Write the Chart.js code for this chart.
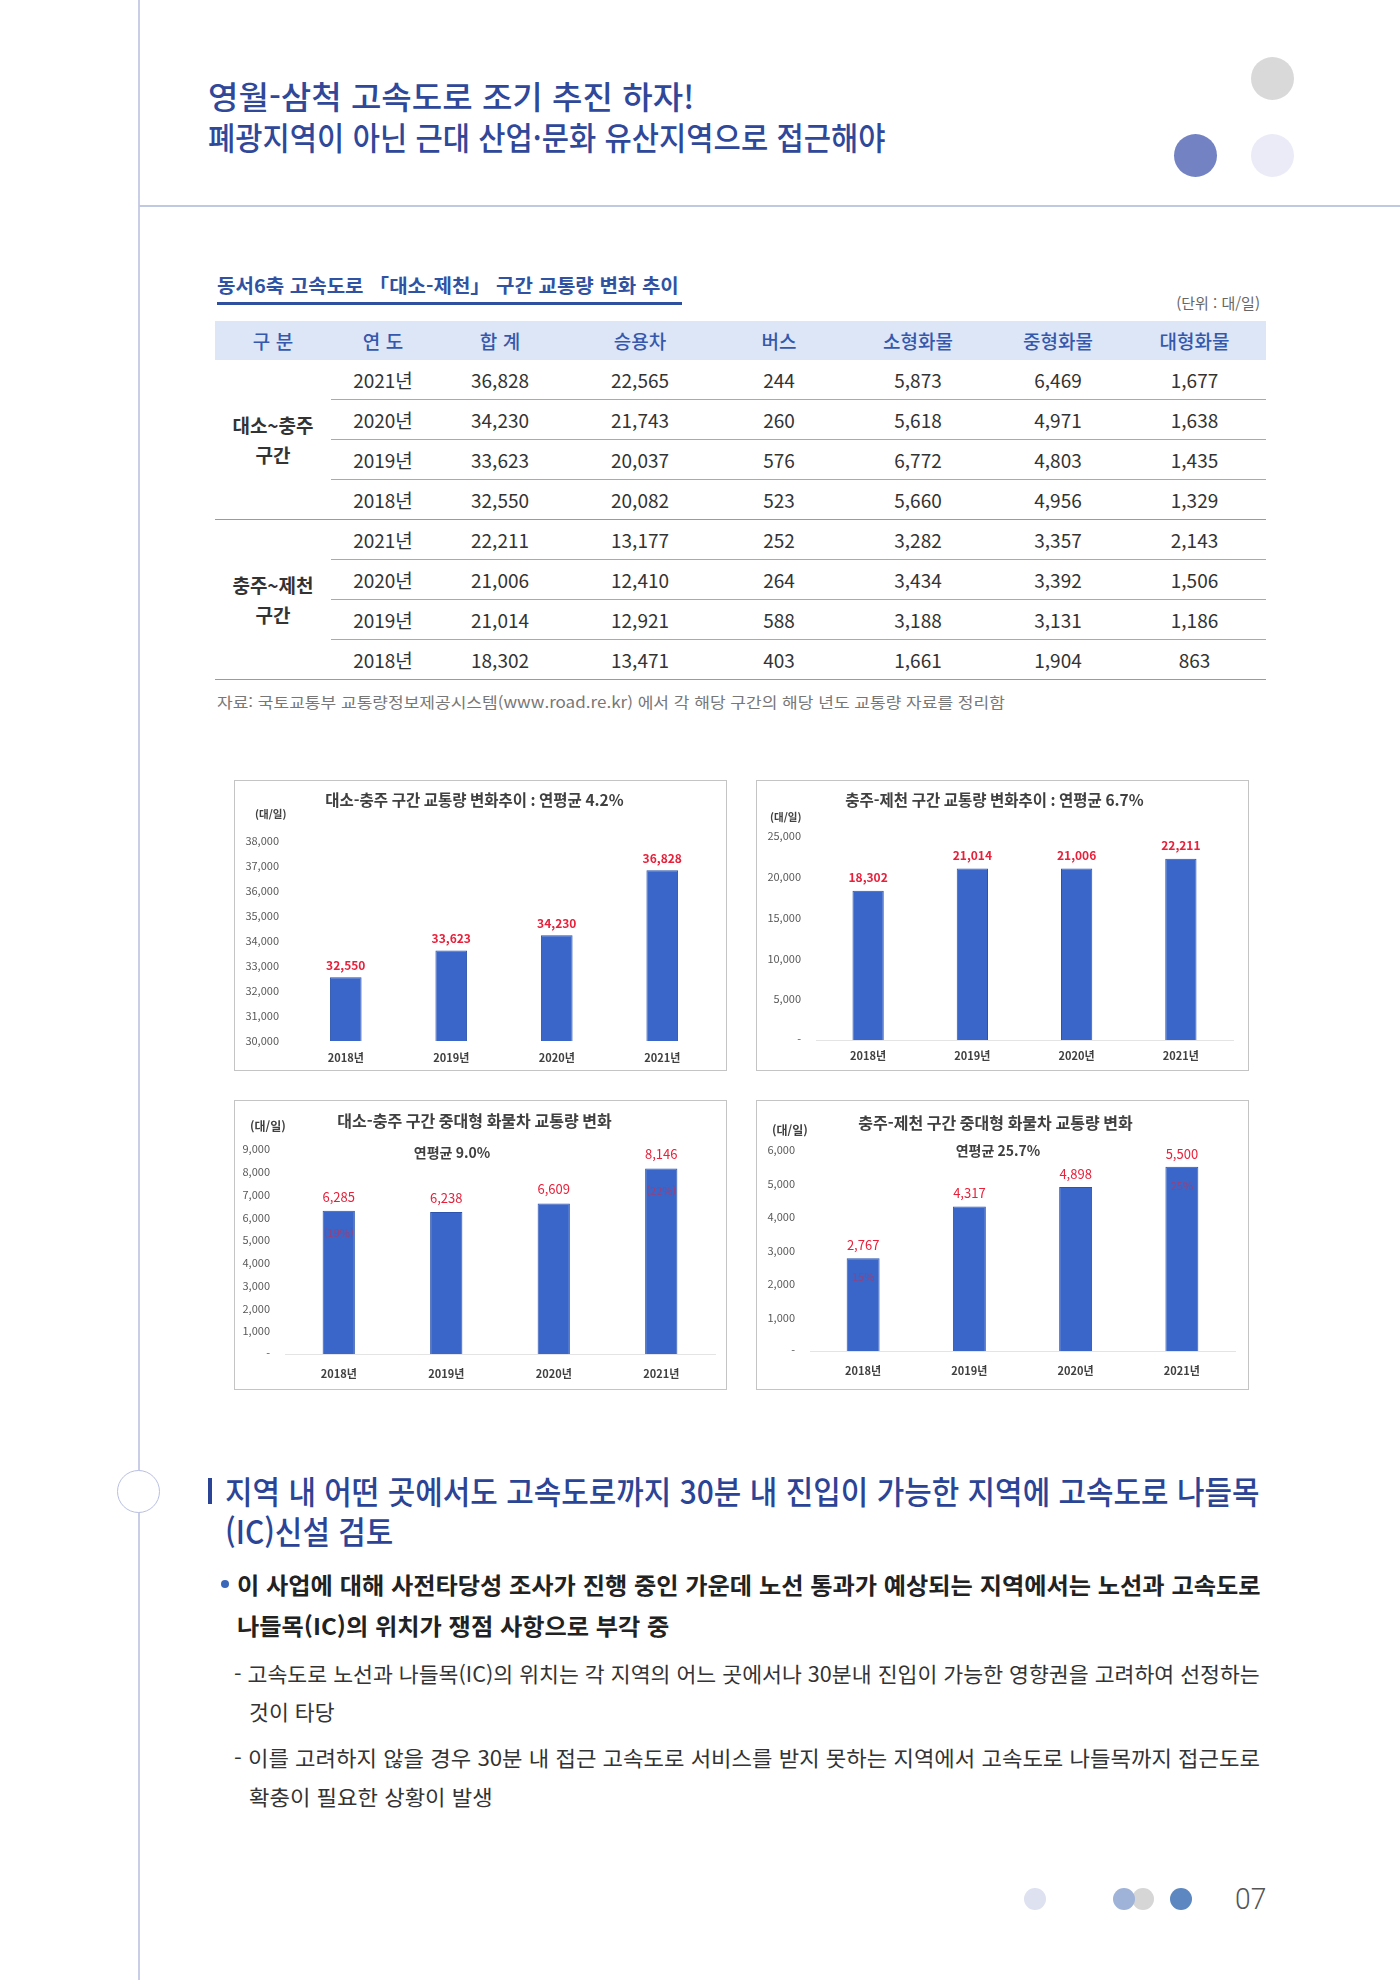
<!DOCTYPE html>
<html lang="ko">
<head>
<meta charset="utf-8">
<title>영월-삼척 고속도로 조기 추진 하자!</title>
<script src="https://cdn.jsdelivr.net/npm/chart.js@4.4.1/dist/chart.umd.min.js"></script>
<style>
  html, body { margin: 0; padding: 0; }
  body {
    width: 1400px; height: 1980px; position: relative; overflow: hidden; background: #fff;
    font-family: "Noto Sans CJK KR", "Noto Sans", sans-serif; color: #333;
  }
  .abs { position: absolute; white-space: nowrap; transform-origin: left center; }
  .dot { position: absolute; border-radius: 50%; }
  .head { font-size: 32px; line-height: 40px; font-weight: 500; color: #30489a; }
  .sec { font-size: 32px; line-height: 40px; font-weight: 500; color: #2c4496; }
  .bul { font-size: 23px; line-height: 40px; font-weight: 700; color: #222; }
  .dash { font-size: 21px; line-height: 38px; font-weight: 400; color: #333; }
  canvas.chart { position: absolute; outline: 1px solid #c4c4c4; outline-offset: -1px; }

  #traffic { position: absolute; left: 215px; top: 321px; width: 1051px; border-collapse: collapse; table-layout: fixed; }
  #traffic th { height: 39px; padding: 0; background: #dde6f6; color: #3558ad; font-size: 19px; font-weight: 500; }
  #traffic td { height: 39px; padding: 0; text-align: center; font-size: 19px; color: #333; border-bottom: 1px solid #9aaad0; }
  #traffic td.grp { font-weight: 700; line-height: 30px; border-bottom: 1.5px solid #8a9bc4; }
  #traffic tr.last td { border-bottom: 1.5px solid #8a9bc4; }
</style>
</head>
<body>

<!-- page frame -->
<div class="abs" style="left:138px; top:0; width:1.5px; height:1980px; background:#c9cee6;"></div>
<div class="abs" style="left:139px; top:205px; width:1261px; height:2px; background:#bfc9df;"></div>
<div class="dot" style="left:1251px; top:57px; width:43px; height:43px; background:#d9d9d9;"></div>
<div class="dot" style="left:1174px; top:134px; width:43px; height:43px; background:#7282c2;"></div>
<div class="dot" style="left:1251px; top:134px; width:43px; height:43px; background:#ebebf8;"></div>

<div class="abs head" data-w="486" style="left:208px; top:75px;">영월-삼척 고속도로 조기 추진 하자!</div>
<div class="abs head" data-w="678" style="left:208px; top:116px;">폐광지역이 아닌 근대 산업·문화 유산지역으로 접근해야</div>

<!-- table -->
<div class="abs" data-w="462" style="left:217px; top:271px; font-size:19px; line-height:28px; font-weight:700; color:#2f52a3;">동서6축 고속도로 「대소-제천」 구간 교통량 변화 추이</div>
<div class="abs" style="left:217px; top:302px; width:465px; height:2.5px; background:#2f4f9f;"></div>
<div class="abs" style="right:140px; top:291px; font-size:15px; line-height:24px; color:#666;">(단위 : 대/일)</div>
<table id="traffic"></table>
<div class="abs" data-w="788" style="left:217px; top:691px; font-size:15px; line-height:22px; color:#777;">자료: 국토교통부 교통량정보제공시스템(www.road.re.kr) 에서 각 해당 구간의 해당 년도 교통량 자료를 정리함</div>

<!-- charts -->
<canvas class="chart" id="c1" width="493" height="291" style="left:234px; top:780px;"></canvas>
<canvas class="chart" id="c2" width="493" height="291" style="left:756px; top:780px;"></canvas>
<canvas class="chart" id="c3" width="493" height="290" style="left:234px; top:1100px;"></canvas>
<canvas class="chart" id="c4" width="493" height="290" style="left:756px; top:1100px;"></canvas>

<!-- section -->
<div class="dot" style="left:117px; top:1470px; width:41px; height:41px; border:1.5px solid #b9bfe2; background:#fff;"></div>
<div class="abs" style="left:208px; top:1478px; width:4px; height:26px; background:#2c4496;"></div>
<div class="abs sec" id="sec1" data-w="1035" style="left:225px; top:1470px;">지역 내 어떤 곳에서도 고속도로까지 30분 내 진입이 가능한 지역에 고속도로 나들목</div>
<div class="abs sec" data-same="sec1" style="left:225px; top:1510px;">(IC)신설 검토</div>

<div class="dot" style="left:221px; top:1580px; width:8px; height:8px; background:#3a67b8;"></div>
<div class="abs bul" id="bul1" data-w="1023" style="left:237px; top:1564px;">이 사업에 대해 사전타당성 조사가 진행 중인 가운데 노선 통과가 예상되는 지역에서는 노선과 고속도로</div>
<div class="abs bul" data-same="bul1" style="left:237px; top:1605px;">나들목(IC)의 위치가 쟁점 사항으로 부각 중</div>

<div class="abs dash" id="dash1" data-w="1026" style="left:234px; top:1654px;">- 고속도로 노선과 나들목(IC)의 위치는 각 지역의 어느 곳에서나 30분내 진입이 가능한 영향권을 고려하여 선정하는</div>
<div class="abs dash" data-same="dash1" style="left:249px; top:1692px;">것이 타당</div>
<div class="abs dash" id="dash2" data-w="1026" style="left:234px; top:1738px;">- 이를 고려하지 않을 경우 30분 내 접근 고속도로 서비스를 받지 못하는 지역에서 고속도로 나들목까지 접근도로</div>
<div class="abs dash" data-same="dash2" style="left:249px; top:1777px;">확충이 필요한 상황이 발생</div>

<!-- footer -->
<div class="dot" style="left:1024px; top:1888px; width:22px; height:22px; background:#dde1f0;"></div>
<div class="dot" style="left:1132px; top:1888px; width:22px; height:22px; background:#d6d6d6;"></div>
<div class="dot" style="left:1113px; top:1888px; width:22px; height:22px; background:#9fb3d9;"></div>
<div class="dot" style="left:1170px; top:1888px; width:22px; height:22px; background:#5c87c1;"></div>
<div class="abs" data-w="31" style="left:1235px; top:1880px; font-family:Roboto, sans-serif; font-weight:300; font-size:30px; line-height:38px; color:#555;">07</div>

<script>
// table values
const tableHead = ['구 분', '연 도', '합 계', '승용차', '버스', '소형화물', '중형화물', '대형화물'];
const tableWidths = [116, 104, 130, 150, 128, 150, 130, 143];
const tableGroups = ['대소~충주<br>구간', '충주~제천<br>구간'];
const tableYears = ['2021년', '2020년', '2019년', '2018년'];
const daesoTable = [
  [36828, 22565, 244, 5873, 6469, 1677],
  [34230, 21743, 260, 5618, 4971, 1638],
  [33623, 20037, 576, 6772, 4803, 1435],
  [32550, 20082, 523, 5660, 4956, 1329]
];
const jecheonTable = [
  [22211, 13177, 252, 3282, 3357, 2143],
  [21006, 12410, 264, 3434, 3392, 1506],
  [21014, 12921, 588, 3188, 3131, 1186],
  [18302, 13471, 403, 1661, 1904, 863]
];

// chart values
const years = ['2018년', '2019년', '2020년', '2021년'];
const daesoTotal = [32550, 33623, 34230, 36828];
const jecheonTotal = [18302, 21014, 21006, 22211];
const daesoTruck = [6285, 6238, 6609, 8146];
const jecheonTruck = [2767, 4317, 4898, 5500];
const daesoTruckShare = ['(19%)', '', '', '(22%)'];
const jecheonTruckShare = ['15%', '', '', '25%'];
// axis ranges: min, max, step
const daesoTotalAxis = [30000, 38000, 1000];
const jecheonTotalAxis = [0, 25000, 5000];
const daesoTruckAxis = [0, 9000, 1000];
const jecheonTruckAxis = [0, 6000, 1000];

const fmt = v => v.toLocaleString('en-US');

// build table
let html = '<colgroup>' + tableWidths.map(w => `<col style="width:${w}px">`).join('') + '</colgroup>';
html += '<tr>' + tableHead.map(h => `<th>${h}</th>`).join('') + '</tr>';
[daesoTable, jecheonTable].forEach((rows, g) => {
  rows.forEach((row, i) => {
    html += `<tr${i === rows.length - 1 ? ' class="last"' : ''}>`;
    if (i === 0) html += `<td class="grp" rowspan="${rows.length}">${tableGroups[g]}</td>`;
    html += `<td>${tableYears[i]}</td>` + row.map(v => `<td>${fmt(v)}</td>`).join('') + '</tr>';
  });
});
document.getElementById('traffic').innerHTML = html;

// squeeze text blocks to the widths of the original condensed type
document.querySelectorAll('[data-w]').forEach(el => {
  const s = +el.dataset.w / el.scrollWidth;
  el.style.transform = `scaleX(${s})`;
  el.dataset.s = s;
});
document.querySelectorAll('[data-same]').forEach(el => {
  el.style.transform = `scaleX(${document.getElementById(el.dataset.same).dataset.s})`;
});

// value labels, unit and subtitle text
const decorPlugin = {
  id: 'decor',
  afterDatasetsDraw(chart, args, opts) {
    const ctx = chart.ctx;
    ctx.save();
    ctx.textBaseline = 'middle';
    ctx.fillStyle = '#404040';
    ctx.textAlign = 'left';
    ctx.font = opts.unitFont;
    ctx.fillText('(대/일)', opts.unit[0], opts.unit[1]);
    if (opts.sub) {
      ctx.textAlign = 'center';
      ctx.font = 'bold 14px "Noto Sans CJK KR"';
      ctx.fillText(opts.sub, opts.subPos[0], opts.subPos[1]);
    }
    ctx.textAlign = 'center';
    const values = chart.data.datasets[0].data;
    chart.getDatasetMeta(0).data.forEach((bar, i) => {
      ctx.font = opts.valueFont;
      ctx.fillStyle = '#e8203a';
      ctx.fillText(fmt(values[i]), bar.x, bar.y - opts.valueGap);
      if (opts.share && opts.share[i]) {
        ctx.font = '11px "Noto Sans CJK KR"';
        ctx.fillStyle = 'rgba(232, 32, 58, 0.55)';
        ctx.fillText(opts.share[i], bar.x, bar.y + opts.shareGap);
      }
    });
    ctx.restore();
  }
};

function makeChart(id, c) {
  new Chart(document.getElementById(id), {
    type: 'bar',
    data: {
      labels: years,
      datasets: [{
        data: c.values,
        backgroundColor: '#3a66c9',
        borderColor: '#2c53ad',
        borderWidth: 1,
        barPercentage: c.barPct,
        categoryPercentage: 1
      }]
    },
    options: {
      responsive: false,
      animation: false,
      layout: { padding: c.pad },
      plugins: {
        legend: { display: false },
        tooltip: { enabled: false },
        title: {
          display: true,
          text: c.title,
          color: '#404040',
          font: { family: '"Noto Sans CJK KR"', size: c.titleSize, weight: 'bold', lineHeight: 1.2 },
          padding: c.titlePad
        },
        decor: c.decor
      },
      scales: {
        x: {
          grid: { display: false, drawTicks: false },
          border: { display: c.baseline, color: '#e4e4e4' },
          ticks: { color: '#404040', font: { family: '"Noto Sans CJK KR"', size: 11, weight: 'bold' }, padding: c.xPad },
          afterFit: scale => { scale.height = c.xHeight; }
        },
        y: {
          min: c.axis[0],
          max: c.axis[1],
          grid: { display: false, drawTicks: false },
          border: { display: false },
          ticks: {
            stepSize: c.axis[2],
            padding: c.yPad,
            color: '#595959',
            font: { family: '"Noto Sans CJK KR"', size: 11 },
            callback: v => v === 0 ? '-' : fmt(v)
          },
          afterFit: scale => { scale.width = c.yWidth; }
        }
      }
    },
    plugins: [decorPlugin]
  });
}

makeChart('c1', {
  values: daesoTotal, axis: daesoTotalAxis, barPct: 0.3,
  title: '대소-충주 구간 교통량 변화추이 : 연평균 4.2%', titleSize: 15.5,
  titlePad: { top: 10.7, bottom: 31.7 },
  pad: { top: 0, right: 12, bottom: 0, left: 0 },
  xPad: 10.4, xHeight: 30, yPad: 14, yWidth: 59, baseline: false,
  decor: { unit: [21, 34], unitFont: 'bold 10.5px "Noto Sans CJK KR"', valueFont: 'bold 12px "Noto Sans CJK KR"', valueGap: 12 }
});

makeChart('c2', {
  values: jecheonTotal, axis: jecheonTotalAxis, barPct: 0.3,
  title: '충주-제천 구간 교통량 변화추이 : 연평균 6.7%', titleSize: 15.5,
  titlePad: { top: 10.7, bottom: 26.7 },
  pad: { top: 0, right: 16, bottom: 0, left: 0 },
  xPad: 9.4, xHeight: 31, yPad: 15, yWidth: 60, baseline: true,
  decor: { unit: [14, 37], unitFont: 'bold 10.5px "Noto Sans CJK KR"', valueFont: 'bold 12px "Noto Sans CJK KR"', valueGap: 13 }
});

makeChart('c3', {
  values: daesoTruck, axis: daesoTruckAxis, barPct: 0.3,
  title: '대소-충주 구간 중대형 화물차 교통량 변화', titleSize: 16,
  titlePad: { top: 11.4, bottom: 18.4 },
  pad: { top: 0, right: 12, bottom: 0, left: 0 },
  xPad: 13.4, xHeight: 36, yPad: 15, yWidth: 51, baseline: true,
  decor: { unit: [16, 26], unitFont: 'bold 12px "Noto Sans CJK KR"', sub: '연평균 9.0%', subPos: [218, 53],
           valueFont: '13px "Noto Sans CJK KR"', valueGap: 14, share: daesoTruckShare, shareGap: 22 }
});

makeChart('c4', {
  values: jecheonTruck, axis: jecheonTruckAxis, barPct: 0.31,
  title: '충주-제천 구간 중대형 화물차 교통량 변화', titleSize: 16,
  titlePad: { top: 13.4, bottom: 17.4 },
  pad: { top: 0, right: 14, bottom: 0, left: 0 },
  xPad: 13.4, xHeight: 39, yPad: 15, yWidth: 54, baseline: true,
  decor: { unit: [16, 30], unitFont: 'bold 12px "Noto Sans CJK KR"', sub: '연평균 25.7%', subPos: [242, 51],
           valueFont: '13px "Noto Sans CJK KR"', valueGap: 13, share: jecheonTruckShare, shareGap: 19 }
});
</script>
</body>
</html>
